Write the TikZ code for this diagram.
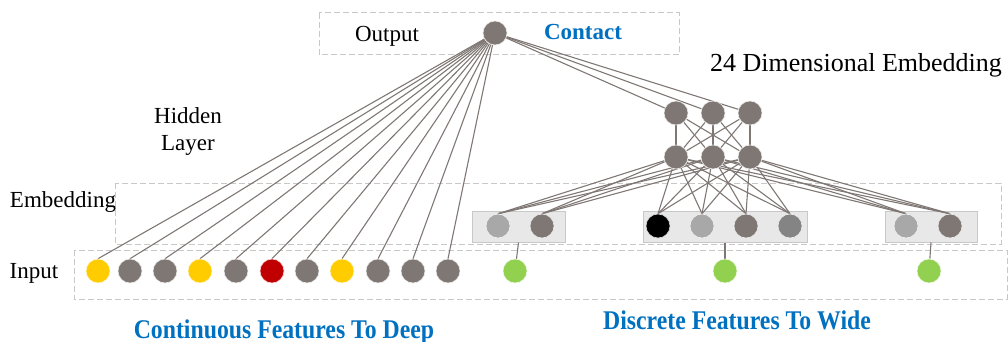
\documentclass[tikz,border=0pt]{standalone}
\usepackage{fontspec}
\setmainfont{Liberation Serif}
\pgfdeclarelayer{boxes}
\pgfdeclarelayer{links}
\pgfsetlayers{boxes,links,main}
\definecolor{unitgray}{HTML}{7F7774}
\definecolor{unitlight}{HTML}{A8A8A8}
\definecolor{unitmid}{HTML}{848484}
\definecolor{unityellow}{HTML}{FFCC00}
\definecolor{unitred}{HTML}{C00000}
\definecolor{unitgreen}{HTML}{92D050}
\definecolor{linkgray}{HTML}{7F7774}
\definecolor{framegray}{HTML}{C8C8C8}
\definecolor{groupfill}{HTML}{E8E8E8}
\definecolor{titleblue}{HTML}{0070C0}
\tikzset{
  unit/.style={circle, minimum size=24pt, inner sep=0pt, fill=#1, draw=white!85!#1, line width=0.6pt},
  link/.style={draw=linkgray, line width=1.1pt},
  frame/.style={draw=framegray, dash pattern=on 6pt off 3pt, line width=1pt},
  group/.style={draw=framegray, fill=groupfill, line width=1pt},
  lbl/.style={font=\fontsize{23}{27}\selectfont, text=black, inner sep=0pt, anchor=base},
  title/.style={font=\bfseries\fontsize{27}{30}\selectfont, text=titleblue, inner sep=0pt, anchor=base, xscale=0.88},
}
\begin{document}
\begin{tikzpicture}[x=1pt,y=-1pt]
\useasboundingbox (0,0) rectangle (1008,342);

% dashed layer frames and embedding groups
\begin{pgfonlayer}{boxes}
  \draw[frame] (319,13) rectangle (679,55);
  \draw[frame] (115,183) rectangle (1001,244);
  \draw[frame] (74,250) rectangle (1007,299);
  \node[group, minimum width=93pt, minimum height=31pt, inner sep=0pt] (g1) at (518.5,226.5) {};
  \node[group, minimum width=164pt, minimum height=31pt, inner sep=0pt] (g2) at (725,226.5) {};
  \node[group, minimum width=92pt, minimum height=31pt, inner sep=0pt] (g3) at (931,226.5) {};
\end{pgfonlayer}

% labels
\node[lbl] (tOut) at (387,42) {Output};
\node[font=\bfseries\fontsize{23}{27}\selectfont, text=titleblue, inner sep=0pt, anchor=base] (tContact) at (583,40) {Contact};
\node[lbl, font=\fontsize{26}{30}\selectfont] (tDim) at (856,72) {24 Dimensional Embedding};
\node[lbl] (tHid) at (188,123) {Hidden};
\node[lbl] (tLay) at (188,150) {Layer};
\node[lbl] (tEmb) at (63,207) {Embedding};
\node[lbl] (tIn) at (34,278) {Input};
\node[title] (tDeep) at (284,338) {Continuous Features To Deep};
\node[title] (tWide) at (737,329) {Discrete Features To Wide};

% output unit
\node[unit=unitgray] (out) at (495,33) {};

% hidden layers
\foreach \i/\x in {1/676,2/713,3/750} {
  \node[unit=unitgray] (h\i) at (\x,113) {};
  \node[unit=unitgray] (b\i) at (\x,157) {};
}

% embedding units
\node[unit=unitlight] (e1) at (498,226) {};
\node[unit=unitgray]  (e2) at (542,226) {};
\node[unit=black]     (e3) at (658,226) {};
\node[unit=unitlight] (e4) at (702,226) {};
\node[unit=unitgray]  (e5) at (746,226) {};
\node[unit=unitmid]   (e6) at (790,226) {};
\node[unit=unitlight] (e7) at (906,226) {};
\node[unit=unitgray]  (e8) at (950,226) {};

% continuous inputs
\foreach \i/\x/\c in {1/98/unityellow,2/130/unitgray,3/165/unitgray,4/200/unityellow,
  5/236/unitgray,6/272/unitred,7/307/unitgray,8/342/unityellow,9/378/unitgray,
  10/413/unitgray,11/448/unitgray} {
  \node[unit=\c] (c\i) at (\x,271) {};
}

% discrete inputs
\node[unit=unitgreen] (d1) at (515,271) {};
\node[unit=unitgreen] (d2) at (725,271) {};
\node[unit=unitgreen] (d3) at (929,271) {};

% connections
\begin{pgfonlayer}{links}
  \foreach \i in {1,...,11} \draw[link] (out) -- (c\i.north);
  \foreach \i in {1,2,3} \draw[link] (out) -- (h\i);
  \foreach \i in {1,2,3} \foreach \j in {1,2,3} \draw[link] (h\i) -- (b\j);
  \foreach \i in {1,2,3} \foreach \j in {1,...,8} \draw[link] (b\i) -- (e\j.north);
  \draw[link] (g1.south) -- (d1);
  \draw[link] (g2.south) -- (d2);
  \draw[link] (g3.south) -- (d3);
\end{pgfonlayer}
\end{tikzpicture}
\end{document}
